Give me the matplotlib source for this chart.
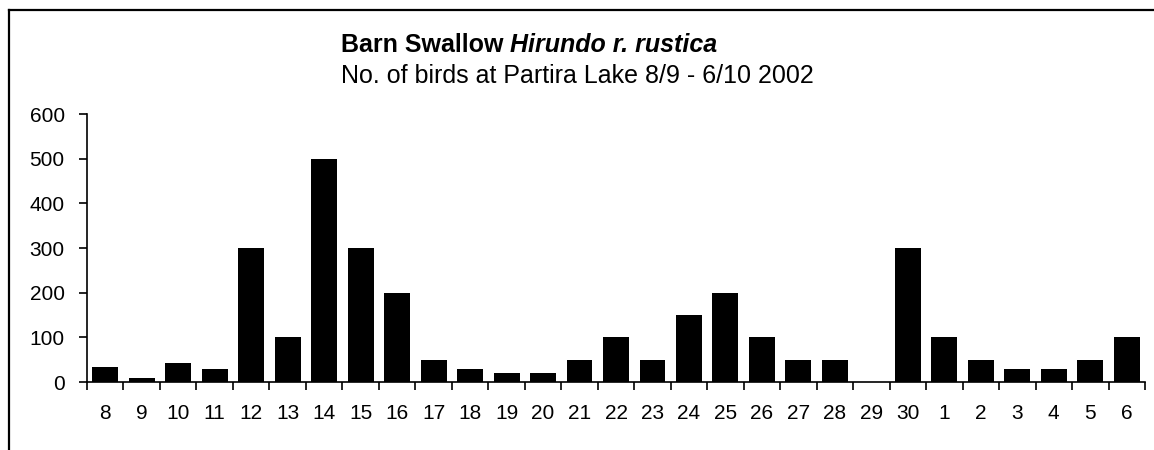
import matplotlib
matplotlib.use('Agg')

import numpy as np
import matplotlib.pyplot as plt
from matplotlib.lines import Line2D

plt.rcParams['font.family'] = ['Liberation Sans', 'DejaVu Sans']

days = ['8', '9', '10', '11', '12', '13', '14', '15', '16', '17', '18', '19',
        '20', '21', '22', '23', '24', '25', '26', '27', '28', '29', '30',
        '1', '2', '3', '4', '5', '6']
birds = [33, 10, 42, 28, 300, 100, 500, 300, 200, 50, 28, 20,
         20, 50, 100, 50, 150, 200, 100, 50, 50, 0, 300,
         100, 50, 28, 28, 50, 100]

W, H = 1154, 450
fig = plt.figure(figsize=(W / 100, H / 100), dpi=100)

# outer frame (left + top edges visible)
fig.add_artist(Line2D([9 / W, 9 / W], [0, 1 - 10 / H], color='black', lw=1.6,
                      transform=fig.transFigure))
fig.add_artist(Line2D([9 / W, 1], [1 - 10 / H, 1 - 10 / H], color='black', lw=1.6,
                      transform=fig.transFigure))

ax = fig.add_axes([87 / W, 1 - 382 / H, (1145 - 87) / W, (382 - 114) / H])

x = np.arange(len(days))
ax.bar(x, birds, width=0.71, color='black')

ax.set_xlim(-0.5, len(days) - 0.5)
ax.set_ylim(0, 600)
ax.set_yticks(range(0, 601, 100))

ax.set_xticks(np.arange(len(days) + 1) - 0.5)
ax.set_xticklabels([])
ax.set_xticks(x, minor=True)
ax.set_xticklabels(days, minor=True)
ax.tick_params(axis='x', which='major', direction='out', length=6, width=1.2)
ax.tick_params(axis='x', which='minor', length=0, pad=16, labelsize=15)
ax.tick_params(axis='y', direction='out', length=6, width=1.2, pad=10, labelsize=15)

for s in ['top', 'right']:
    ax.spines[s].set_visible(False)
for s in ['left', 'bottom']:
    ax.spines[s].set_linewidth(1.2)

t1 = fig.text(341 / W, 1 - 45 / H, 'Barn Swallow ', fontsize=18, fontweight='bold',
              ha='left', va='center')
fig.canvas.draw()
bb = t1.get_window_extent()
fig.text(bb.x1 / W, 1 - 45 / H, 'Hirundo r. rustica', fontsize=18, fontweight='bold',
         fontstyle='italic', ha='left', va='center')
fig.text(341 / W, 1 - 76 / H, 'No. of birds at Partira Lake 8/9 - 6/10 2002',
         fontsize=18, ha='left', va='center')

fig.savefig('out.png', dpi=100)
